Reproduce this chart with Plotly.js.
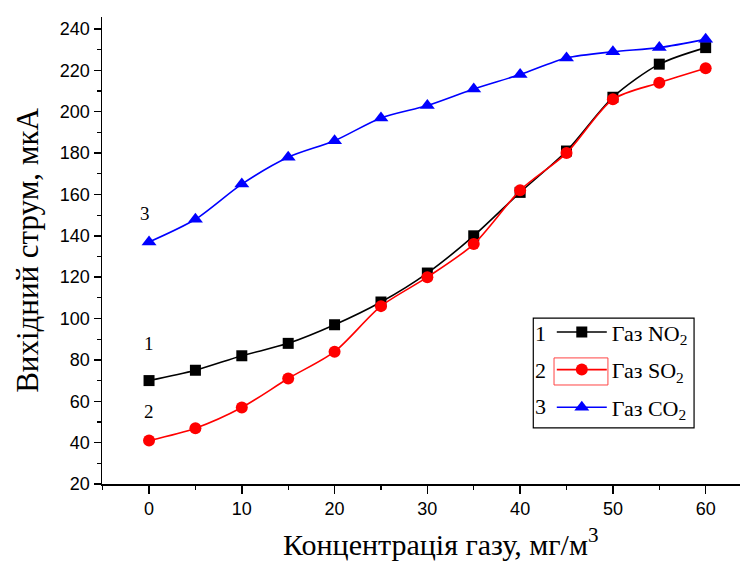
<!DOCTYPE html>
<html>
<head>
<meta charset="utf-8">
<script src="https://cdn.plot.ly/plotly-3.0.1.min.js"></script>
<style>html,body{margin:0;padding:0;background:#fff;}#chart{width:740px;height:564px;}</style>
</head>
<body>
<div id="chart"></div>
<script>
const conc = [0, 5, 10, 15, 20, 25, 30, 35, 40, 45, 50, 55, 60];
const no2 = [70, 75, 82, 88, 97, 108, 122, 140, 161, 181, 207, 223, 231];
const so2 = [41, 47, 57, 71, 84, 106, 120, 136, 162, 180, 206, 214, 221];
const co2 = [137, 148, 165, 178, 186, 197, 203, 211, 218, 226, 229, 231, 235];
const names = ['Газ NO<sub>2</sub>', 'Газ SO<sub>2</sub>', 'Газ CO<sub>2</sub>'];
const curveLabels = ['1', '2', '3'];
const labelPos = [[0, 88], [0, 55], [-0.4, 151]];

const serif = 'Liberation Serif, Times New Roman, serif';
const sans = 'Liberation Sans, Arial, sans-serif';

function tr(y, name, color, symbol, size, grp) {
  return {
    x: conc, y: y, name: name, legendgroup: grp,
    type: 'scatter', mode: 'lines+markers',
    line: {color: color, width: 1.6, shape: 'spline', smoothing: 0.8},
    marker: {color: color, symbol: symbol, size: size}
  };
}
const data = [
  tr(no2, names[0], '#000000', 'square', 11, 'a'),
  tr(so2, names[1], '#ff0000', 'circle', 12, 'b'),
  tr(co2, names[2], '#0000ff', 'triangle-up', 13, 'c')
];

const annotations = curveLabels.map((t, i) => ({
  x: labelPos[i][0], y: labelPos[i][1], xref: 'x', yref: 'y',
  xanchor: 'center', yanchor: 'middle',
  text: t, showarrow: false, font: {family: serif, size: 19, color: '#000'}
}));
// legend number prefixes
[['1', 0.323], ['2', 0.242], ['3', 0.165]].forEach(p => annotations.push({
  x: 0.688, y: p[1], xref: 'paper', yref: 'paper', xanchor: 'center', yanchor: 'middle',
  text: p[0], showarrow: false,
  font: {family: serif, size: 22, color: '#000'}
}));
annotations.push({
  x: 0.53, y: -0.17, xref: 'paper', yref: 'paper', xanchor: 'center', yanchor: 'bottom',
  text: 'Концентрація газу, мг/м<sup>3</sup>', showarrow: false,
  font: {family: serif, size: 30, color: '#000'}
});

const layout = {
  width: 740, height: 564,
  margin: {l: 102, r: 0, t: 17, b: 80},
  paper_bgcolor: '#fff', plot_bgcolor: '#fff',
  showlegend: true,
  legend: {
    x: 0.705, y: 0.37, xanchor: 'left', yanchor: 'top',
    bgcolor: 'rgba(0,0,0,0)', borderwidth: 0,
    font: {family: serif, size: 22, color: '#000'},
    tracegroupgap: 6, traceorder: 'grouped', itemwidth: 50
  },
  xaxis: {
    range: [-5.07, 63.7], tickvals: [0, 10, 20, 30, 40, 50, 60],
    showgrid: false, zeroline: false, showline: true, linecolor: '#000', linewidth: 1.5,
    ticks: 'outside', ticklen: 8, tickwidth: 1.5, tickcolor: '#000',
    minor: {dtick: 5, tick0: 0, ticks: 'outside', ticklen: 4, tickwidth: 1.2, tickcolor: '#000'},
    tickfont: {family: sans, size: 18, color: '#000'}
  },
  yaxis: {
    range: [20, 245.8], tickvals: [20, 40, 60, 80, 100, 120, 140, 160, 180, 200, 220, 240],
    showgrid: false, zeroline: false, showline: true, linecolor: '#000', linewidth: 1.5,
    ticks: 'outside', ticklen: 7, tickwidth: 1.5, tickcolor: '#000',
    minor: {dtick: 10, tick0: 0, ticks: 'outside', ticklen: 4, tickwidth: 1.2, tickcolor: '#000'},
    tickfont: {family: sans, size: 18, color: '#000'},
    title: {text: 'Вихідний струм, мкА', font: {family: serif, size: 31, color: '#000'}, standoff: 12}
  },
  shapes: [
    {type: 'rect', xref: 'paper', yref: 'paper', x0: 0.676, x1: 0.928, y0: 0.12, y1: 0.355,
     line: {color: '#000', width: 1.2}},
    {type: 'rect', xref: 'paper', yref: 'paper', x0: 0.7085, x1: 0.793, y0: 0.212, y1: 0.270,
     line: {color: '#ff4444', width: 1}}
  ],
  annotations: annotations
};

Plotly.newPlot('chart', data, layout, {displayModeBar: false, staticPlot: true});
</script>
</body>
</html>
